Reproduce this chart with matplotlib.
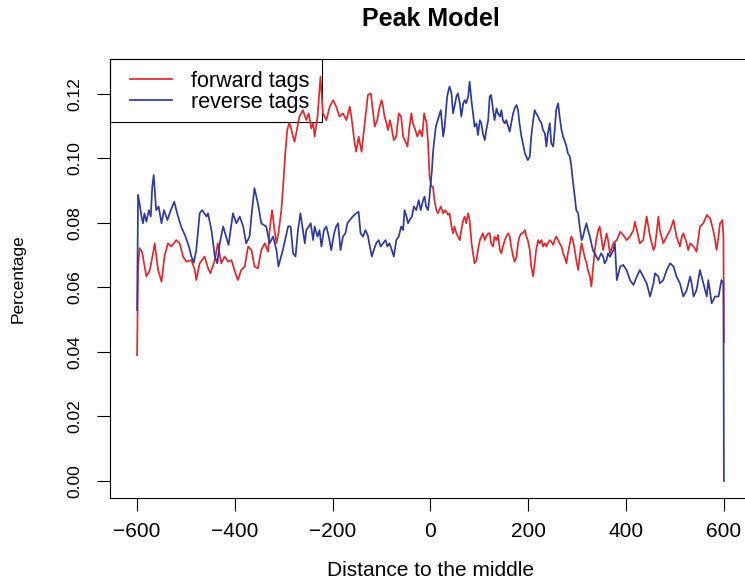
import matplotlib
matplotlib.use('Agg')
import matplotlib.pyplot as plt
from matplotlib.patches import Rectangle

plt.rcParams['font.family'] = ['Liberation Sans', 'DejaVu Sans']

title = "Peak Model"
xlabel = "Distance to the middle"
ylabel = "Percentage"
series_names = ["forward tags", "reverse tags"]
xticks = [-600, -400, -200, 0, 200, 400, 600]
yticks = [0.00, 0.02, 0.04, 0.06, 0.08, 0.10, 0.12]

forward_x = [-600, -598, -595, -590, -581, -574, -568, -564, -557, -550, -544, -537, -530, -520,
             -513, -506, -499, -489, -482, -479, -472, -462, -455, -450, -441, -435, -428, -421,
             -414, -407, -401, -394, -387, -380, -373, -366, -360, -353, -346, -339, -332, -329,
             -324, -319, -315, -311, -305, -301, -297, -293, -289, -286, -281, -278, -272, -268,
             -261, -254, -249, -244, -240, -237, -231, -225, -220, -213, -206, -199, -193, -186,
             -179, -172, -165, -160, -156, -152, -147, -141, -136, -128, -122, -118, -114, -109,
             -104, -100, -97, -94, -90, -87, -83, -80, -75, -70, -65, -60, -56, -51, -47, -43,
             -39, -36, -31, -27, -22, -17, -13, -8, -5, -2, 2, 5, 8, 12, 15, 21, 26, 30, 36, 39,
             43, 46, 49, 53, 56, 60, 63, 67, 70, 73, 77, 80, 84, 87, 90, 94, 97, 101, 104, 107,
             111, 114, 118, 121, 124, 128, 131, 135, 138, 142, 145, 148, 152, 155, 159, 162, 165,
             169, 172, 176, 179, 182, 186, 189, 193, 196, 199, 203, 206, 210, 213, 216, 220, 223,
             227, 230, 234, 237, 240, 244, 247, 251, 254, 257, 261, 264, 268, 271, 274, 278, 281,
             285, 288, 291, 295, 298, 302, 305, 309, 312, 315, 319, 322, 326, 329, 332, 336, 339,
             343, 346, 349, 353, 356, 360, 363, 367, 374, 381, 388, 394, 401, 408, 415, 418, 422,
             428, 435, 442, 449, 456, 459, 463, 466, 469, 476, 483, 490, 497, 503, 510, 514, 517,
             524, 527, 531, 538, 544, 551, 558, 565, 572, 578, 582, 585, 589, 592, 597, 599, 600]
forward_y = [0.0390, 0.0665, 0.0722, 0.0711, 0.0634, 0.0654, 0.0701, 0.0737, 0.0654, 0.0618, 0.0696,
             0.0737, 0.0727, 0.0747, 0.0737, 0.0696, 0.0680, 0.0685, 0.0654, 0.0623, 0.0675, 0.0696,
             0.0660, 0.0644, 0.0685, 0.0737, 0.0675, 0.0696, 0.0680, 0.0685, 0.0654, 0.0623, 0.0654,
             0.0665, 0.0727, 0.0716, 0.0665, 0.0659, 0.0716, 0.0737, 0.0711, 0.0778, 0.0840, 0.0778,
             0.0737, 0.0768, 0.0840, 0.0923, 0.1016, 0.1088, 0.1110, 0.1099, 0.1068, 0.1052, 0.1099,
             0.1130, 0.1150, 0.1119, 0.1140, 0.1093, 0.1109, 0.1068, 0.1130, 0.1254, 0.1140, 0.1119,
             0.1161, 0.1181, 0.1161, 0.1130, 0.1140, 0.1119, 0.1161, 0.1109, 0.1057, 0.1021, 0.1068,
             0.1021, 0.1088, 0.1197, 0.1202, 0.1150, 0.1099, 0.1119, 0.1161, 0.1181, 0.1161, 0.1130,
             0.1109, 0.1088, 0.1119, 0.1099, 0.1057, 0.1068, 0.1140, 0.1130, 0.1068, 0.1052, 0.1037,
             0.1099, 0.1140, 0.1109, 0.1088, 0.1068, 0.1088, 0.1068, 0.1140, 0.1109, 0.1047, 0.0944,
             0.0913, 0.0913, 0.0871, 0.0840, 0.0830, 0.0851, 0.0830, 0.0840, 0.0825, 0.0830, 0.0789,
             0.0768, 0.0789, 0.0768, 0.0758, 0.0747, 0.0778, 0.0809, 0.0820, 0.0799, 0.0830, 0.0809,
             0.0737, 0.0706, 0.0675, 0.0685, 0.0716, 0.0747, 0.0758, 0.0768, 0.0747, 0.0758, 0.0768,
             0.0768, 0.0737, 0.0727, 0.0758, 0.0747, 0.0763, 0.0716, 0.0706, 0.0727, 0.0747, 0.0758,
             0.0768, 0.0758, 0.0727, 0.0696, 0.0680, 0.0696, 0.0737, 0.0758, 0.0768, 0.0768, 0.0778,
             0.0758, 0.0747, 0.0716, 0.0665, 0.0634, 0.0675, 0.0716, 0.0747, 0.0737, 0.0747, 0.0727,
             0.0737, 0.0727, 0.0737, 0.0747, 0.0742, 0.0732, 0.0747, 0.0758, 0.0747, 0.0737, 0.0727,
             0.0706, 0.0696, 0.0675, 0.0706, 0.0737, 0.0758, 0.0747, 0.0716, 0.0685, 0.0654, 0.0696,
             0.0737, 0.0716, 0.0696, 0.0675, 0.0654, 0.0634, 0.0603, 0.0654, 0.0716, 0.0747, 0.0778,
             0.0789, 0.0758, 0.0716, 0.0737, 0.0768, 0.0747, 0.0706, 0.0737, 0.0747, 0.0773, 0.0763,
             0.0747, 0.0758, 0.0778, 0.0804, 0.0778, 0.0737, 0.0747, 0.0820, 0.0758, 0.0716, 0.0727,
             0.0778, 0.0820, 0.0778, 0.0737, 0.0758, 0.0778, 0.0809, 0.0758, 0.0727, 0.0758, 0.0768,
             0.0737, 0.0716, 0.0737, 0.0727, 0.0711, 0.0789, 0.0799, 0.0825, 0.0814, 0.0778, 0.0747,
             0.0716, 0.0758, 0.0799, 0.0809, 0.0758, 0.0430]

reverse_x = [-600, -598, -595, -591, -588, -585, -581, -576, -572, -569, -566, -561, -556, -550,
             -545, -538, -531, -524, -518, -510, -501, -494, -489, -484, -479, -472, -467, -458,
             -455, -448, -441, -436, -431, -424, -418, -413, -404, -397, -390, -383, -377, -370,
             -365, -360, -353, -346, -336, -329, -322, -315, -311, -302, -291, -286, -281, -276,
             -271, -266, -262, -257, -254, -249, -245, -240, -237, -231, -227, -223, -218, -213,
             -208, -203, -197, -193, -189, -184, -179, -174, -170, -165, -159, -152, -147, -143,
             -138, -133, -128, -124, -120, -116, -111, -106, -102, -97, -92, -88, -84, -79, -75,
             -70, -65, -60, -56, -53, -49, -46, -43, -38, -34, -29, -24, -20, -15, -12, -9, -5,
             -2, 0, 3, 5, 7, 11, 15, 21, 26, 29, 34, 37, 39, 43, 46, 49, 53, 56, 60, 63, 67, 70,
             73, 77, 80, 84, 87, 90, 94, 97, 101, 104, 107, 111, 114, 118, 121, 124, 128, 131,
             135, 138, 142, 145, 148, 152, 155, 159, 162, 165, 169, 172, 176, 179, 182, 186, 189,
             193, 196, 199, 203, 206, 210, 213, 216, 220, 223, 227, 230, 234, 237, 240, 244, 247,
             251, 254, 257, 261, 264, 268, 271, 274, 278, 281, 285, 288, 291, 295, 298, 302, 305,
             309, 312, 315, 319, 322, 326, 329, 332, 336, 339, 343, 346, 349, 353, 356, 360, 363,
             367, 374, 377, 381, 388, 394, 401, 408, 415, 422, 428, 435, 442, 449, 456, 459, 466,
             469, 476, 483, 490, 497, 503, 510, 517, 524, 531, 534, 538, 544, 551, 558, 565, 568,
             575, 582, 589, 595, 599, 600]
reverse_y = [0.0530, 0.0887, 0.0861, 0.0820, 0.0799, 0.0830, 0.0804, 0.0840, 0.0820, 0.0913, 0.0949,
             0.0840, 0.0851, 0.0799, 0.0840, 0.0809, 0.0840, 0.0866, 0.0830, 0.0789, 0.0758, 0.0727,
             0.0696, 0.0677, 0.0716, 0.0830, 0.0840, 0.0820, 0.0830, 0.0778, 0.0696, 0.0675, 0.0737,
             0.0789, 0.0758, 0.0732, 0.0830, 0.0799, 0.0820, 0.0789, 0.0737, 0.0758, 0.0840, 0.0908,
             0.0861, 0.0799, 0.0789, 0.0737, 0.0758, 0.0716, 0.0665, 0.0716, 0.0790, 0.0789, 0.0706,
             0.0696, 0.0778, 0.0830, 0.0789, 0.0737, 0.0778, 0.0789, 0.0799, 0.0747, 0.0789, 0.0758,
             0.0778, 0.0727, 0.0778, 0.0789, 0.0758, 0.0716, 0.0768, 0.0789, 0.0799, 0.0716, 0.0758,
             0.0768, 0.0799, 0.0809, 0.0820, 0.0830, 0.0835, 0.0768, 0.0758, 0.0778, 0.0760, 0.0727,
             0.0696, 0.0716, 0.0737, 0.0747, 0.0727, 0.0737, 0.0747, 0.0727, 0.0737, 0.0716, 0.0696,
             0.0747, 0.0758, 0.0789, 0.0778, 0.0840, 0.0820, 0.0799, 0.0809, 0.0820, 0.0851, 0.0840,
             0.0871, 0.0840, 0.0871, 0.0882, 0.0851, 0.0840, 0.0882, 0.0918, 0.0964, 0.1016, 0.1047,
             0.1099, 0.1119, 0.1150, 0.1068, 0.1099, 0.1192, 0.1212, 0.1223, 0.1202, 0.1140, 0.1161,
             0.1192, 0.1202, 0.1171, 0.1130, 0.1171, 0.1181, 0.1171, 0.1192, 0.1238, 0.1176, 0.1140,
             0.1099, 0.1109, 0.1073, 0.1119, 0.1109, 0.1078, 0.1057, 0.1088, 0.1119, 0.1192, 0.1197,
             0.1150, 0.1119, 0.1155, 0.1140, 0.1130, 0.1150, 0.1119, 0.1109, 0.1119, 0.1099, 0.1083,
             0.1109, 0.1140, 0.1155, 0.1166, 0.1150, 0.1109, 0.1068, 0.1047, 0.1016, 0.1006, 0.0995,
             0.1006, 0.1068, 0.1119, 0.1150, 0.1140, 0.1130, 0.1119, 0.1109, 0.1088, 0.1078, 0.1037,
             0.1078, 0.1109, 0.1047, 0.1037, 0.1088, 0.1150, 0.1171, 0.1130, 0.1088, 0.1068, 0.1057,
             0.1037, 0.1016, 0.1006, 0.0975, 0.0933, 0.0882, 0.0840, 0.0830, 0.0789, 0.0747, 0.0758,
             0.0778, 0.0799, 0.0778, 0.0758, 0.0737, 0.0716, 0.0706, 0.0696, 0.0685, 0.0696, 0.0706,
             0.0696, 0.0675, 0.0685, 0.0706, 0.0695, 0.0716, 0.0737, 0.0623, 0.0665, 0.0670, 0.0654,
             0.0623, 0.0608, 0.0634, 0.0654, 0.0634, 0.0613, 0.0572, 0.0613, 0.0644, 0.0634, 0.0613,
             0.0623, 0.0654, 0.0675, 0.0665, 0.0634, 0.0613, 0.0572, 0.0592, 0.0634, 0.0613, 0.0572,
             0.0592, 0.0654, 0.0613, 0.0572, 0.0623, 0.0551, 0.0572, 0.0572, 0.0623, 0.0613, 0.0000]

red = '#E3282B'
blue = '#2E3A9F'

W, H = 745, 583
fig = plt.figure(figsize=(W / 100, H / 100), dpi=100)
L, R, T, B = 110, 751, 59, 497.5
ax = fig.add_axes([L / W, 1 - B / H, (R - L) / W, (B - T) / H])

ax.plot(forward_x, forward_y, color=red, lw=1.25, label=series_names[0])
ax.plot(reverse_x, reverse_y, color=blue, lw=1.25, label=series_names[1])

ax.set_xlim(-655.4, 655.4)
ax.set_ylim(-0.00512, 0.13085)
ax.set_xticks(xticks)
ax.set_xticklabels([f"{v:d}".replace('-', '\u2212') for v in xticks])
ax.set_yticks(yticks)
ax.set_yticklabels([f"{v:.2f}" for v in yticks], rotation=90, va='center')
ax.tick_params(direction='out', length=9.4, width=0.8, pad=8, colors='black')
ax.tick_params(axis='x', labelsize=15)
ax.tick_params(axis='y', labelsize=12.5, pad=10.5)
for s in ax.spines.values():
    s.set_linewidth(0.8)
    s.set_color('black')

ax.set_title(title, fontsize=18, fontweight='bold', pad=24)
ax.set_xlabel(xlabel, fontsize=15, va='center')
ax.set_ylabel(ylabel, fontsize=12.5, va='center')
ax.xaxis.set_label_coords(0.5, (B - 570) / (B - T))
ax.yaxis.set_label_coords((18 - L) / (R - L), 0.5)

# legend box (R-style, transparent)
box = Rectangle((0, (B - 122) / (B - T)), (322 - L) / (R - L), 1 - (B - 122) / (B - T),
                transform=ax.transAxes, fill=False, edgecolor='black', lw=0.8, clip_on=False)
ax.add_patch(box)
leg = ax.legend(loc='upper left', bbox_to_anchor=((130 - L) / (R - L), 1 - 12 / (B - T)),
                frameon=False, fontsize=15.5, handlelength=1.95, handletextpad=0.88,
                borderpad=0, borderaxespad=0, labelspacing=0.0)

fig.savefig('out.png', dpi=100)
